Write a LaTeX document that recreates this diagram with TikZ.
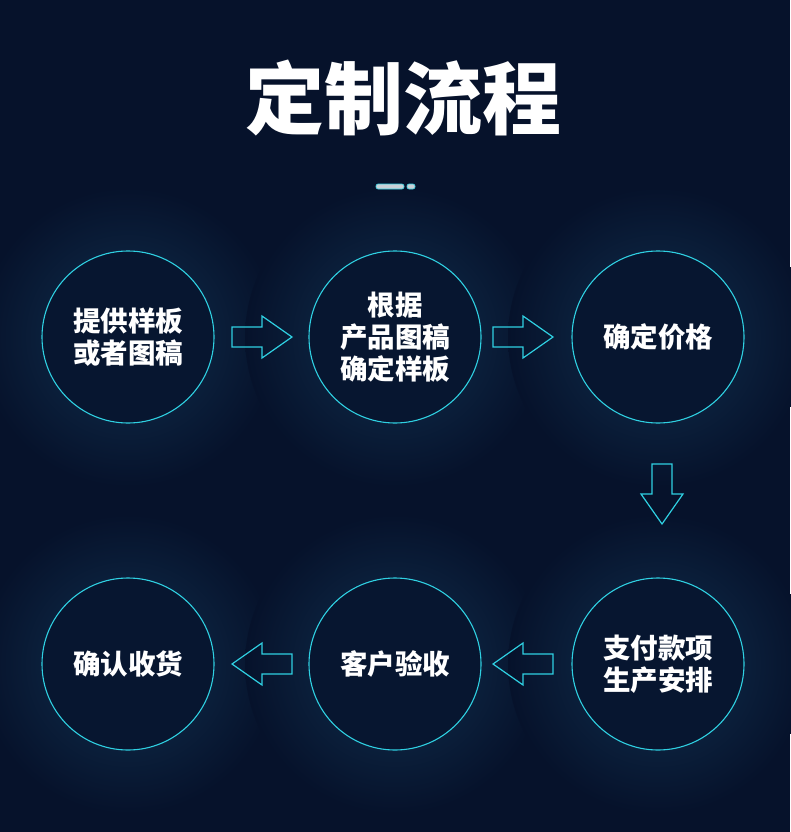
\documentclass[tikz,border=0pt]{standalone}
\usepackage{fontspec}
\newfontfamily\cjk{Noto Sans CJK SC}
\definecolor{bg}{HTML}{06122B}
\definecolor{glow}{HTML}{11304F}
\definecolor{cin}{HTML}{071630}
\definecolor{cyanl}{HTML}{2FD0E2}
\definecolor{barg}{HTML}{C9D0D6}
\tikzset{
  stepcirc/.style={circle, minimum size=172pt, inner sep=0pt, draw=cyanl, line width=1.1pt, fill=cin,
     text=white, font=\cjk\bfseries\fontsize{27.5}{32}\selectfont, align=center},
  arrowline/.style={draw=cyanl, line width=1.2pt, fill=none, line join=miter},
  flowarrow/.pic={\draw[arrowline] (-30,-10) -- (0,-10) -- (0,-21) -- (30,0) -- (0,21) -- (0,10) -- (-30,10) -- cycle;}
}
\begin{document}
\begin{tikzpicture}[x=1pt,y=-1pt]
\fill[bg] (0,0) rectangle (790,832);
\useasboundingbox (0,0) rectangle (790,832);
% glows
\foreach \px/\py in {128/337,395/337,658/337,128/664,395/664,658/664}{
  \shade[inner color=glow, outer color=bg] (\px,\py) circle (150);
}
% title
\node[text=white, font=\cjk\bfseries\fontsize{79}{84}\selectfont] (title) at (403,98) {定制流程};
% separator
\fill[barg, draw=cyanl, line width=0.6pt, rounded corners=2pt] (376,184) rectangle (404,189);
\fill[barg, draw=cyanl, line width=0.6pt, rounded corners=2pt] (407,184) rectangle (415,189);
% circles
\node[stepcirc] (s1) at (128,337) {提供样板\\或者图稿};
\node[stepcirc] (s2) at (395,337) {根据\\产品图稿\\确定样板};
\node[stepcirc] (s3) at (658,337) {确定价格};
\node[stepcirc] (s4) at (658,664) {支付款项\\生产安排};
\node[stepcirc] (s5) at (395,664) {客户验收};
\node[stepcirc] (s6) at (128,664) {确认收货};
% arrows
\pic at (262,337) {flowarrow};
\pic at (523,337) {flowarrow};
\pic[rotate=-90] at (662,494) {flowarrow};
\pic[rotate=180] at (523,664) {flowarrow};
\pic[rotate=180] at (262,664) {flowarrow};
\end{tikzpicture}
\end{document}
